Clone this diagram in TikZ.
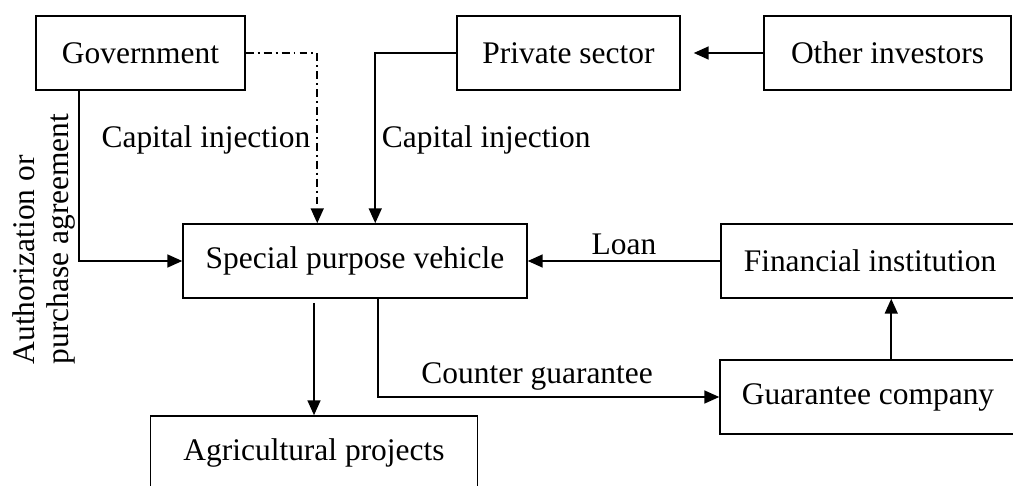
\documentclass[tikz,border=0pt]{standalone}
\usepackage{fontspec}
\setmainfont{Liberation Serif}
\usetikzlibrary{arrows.meta,calc}
\tikzset{
  blk/.style={draw, line width=0.9pt, minimum height=1.48cm, inner sep=0pt},
  dashdotline/.style={dash pattern=on 4.5pt off 2.3pt on 1.1pt off 2.3pt},
}
\begin{document}
\begin{tikzpicture}[x=0.02cm, y=-0.02cm, line width=0.9pt,
    >={Triangle[length=8.5pt, width=7.4pt]},
    font=\fontsize{17.9}{22}\selectfont]
      \clip (0,0) rectangle (1013,486);

      % boxes
      \node[blk, minimum width=4.18cm] (gov) at (140.5,53) {Government};
      \node[blk, minimum width=4.46cm] (priv) at (568.5,53) {Private sector};
      \node[blk, minimum width=4.94cm] (other) at (887.5,53) {Other investors};
      \node[blk, minimum width=6.88cm] (spv) at (355,261) {Special purpose vehicle};
      \node[blk, minimum width=5.96cm] (fin) at (870,261) {Financial institution};
      \node[blk, minimum width=5.92cm] (guar) at (868,397) {Guarantee company};
      \node[blk, minimum width=6.54cm] (agri) at (314,453) {Agricultural projects};

      \node[rotate=90, anchor=north west, align=left, inner sep=0pt,
        font=\fontsize{17.9}{19.5}\selectfont] (auth) at (11.5,365)
      {Authorization or\\purchase agreement};

      % links
      \draw[dashdotline, ->] (gov.east) -| ($(spv.north west)+(135,0)$)
        node[pos=0.754, left, inner sep=3.5pt] (capl) {Capital injection};
      \draw[->] ($(gov.south west)+(44,0)$) |- (spv.west);
      \draw[->] (priv.west) -| ($(spv.north west)+(193,0)$)
        node[pos=0.755, right] (capr) {Capital injection};
      \draw[->] (other.west) -- ($(priv.east)+(13,0)$);
      \draw[->] (fin.west) -- (spv.east) node[midway, above] (loan) {Loan};
      \draw[->] ($(spv.south -| agri.north)+(0,4)$) -- (agri.north);
      \draw[->] ($(spv.south west)+(196,0)$) |- (guar.west)
        node[pos=0.733, above] (cg) {Counter guarantee};
      \draw[->] ($(guar.north west)+(172,0)$) coordinate (gf) -- (gf |- fin.south);
    \end{tikzpicture}
\end{document}
